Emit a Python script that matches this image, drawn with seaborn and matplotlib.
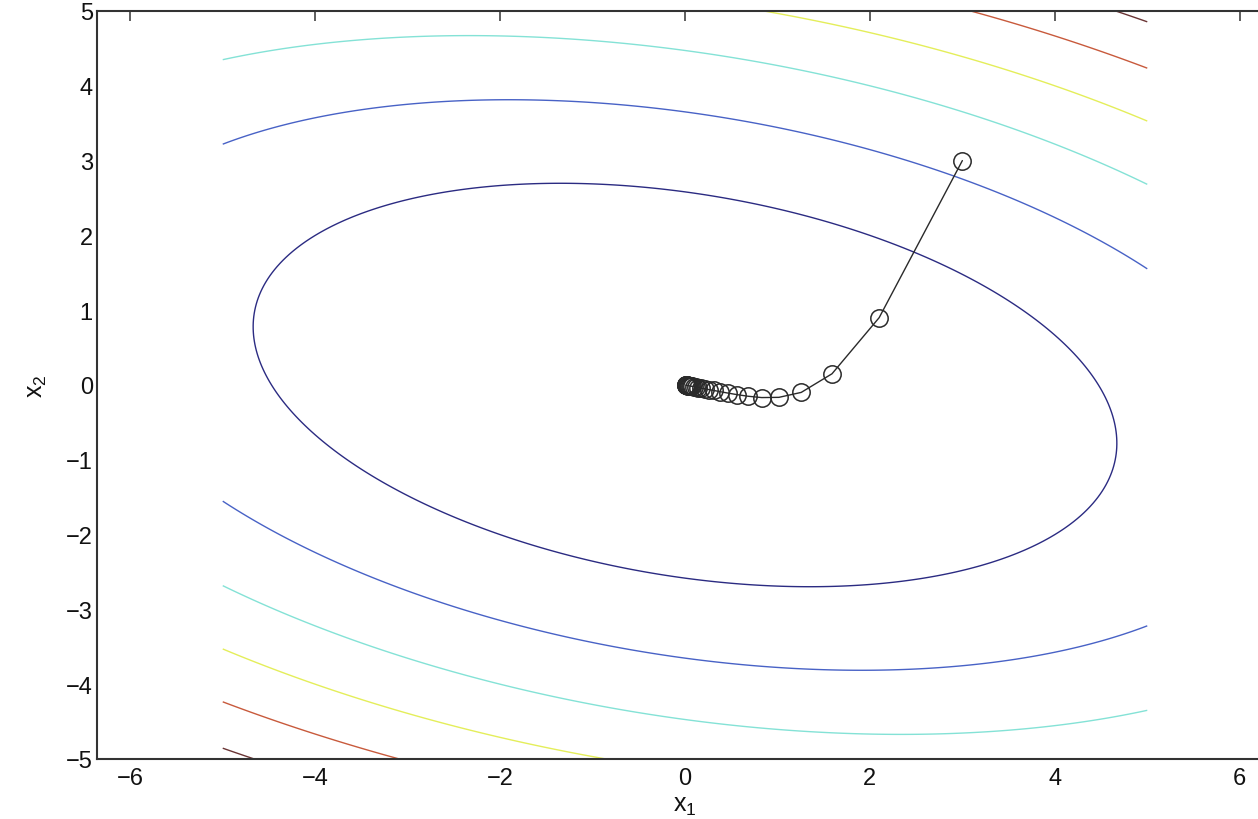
import numpy as np
import pandas as pd
import seaborn as sns
import matplotlib.pyplot as plt

# quadratic f(x) = a*x1^2 + 2*b*x1*x2 + c*x2^2
quad_a = 1.0
quad_b = 0.5
quad_c = 3.0
grid_lo, grid_hi = -5.0, 5.0
levels = [20, 40, 60, 80, 100, 120]
level_colors = ['#2b2b82', '#4862c6', '#84e2d6', '#e4ee5a', '#c85a3c', '#6a3434']

# descent path
path_x1 = [3.0, 2.10, 1.59, 1.257, 1.016, 0.829, 0.680, 0.559, 0.460, 0.379,
           0.312, 0.257, 0.211, 0.174, 0.143, 0.118, 0.097, 0.080, 0.066, 0.054,
           0.045, 0.037, 0.030, 0.025, 0.021, 0.017, 0.014, 0.011, 0.009, 0.008]
path_x2 = [3.0, 0.90, 0.15, -0.099, -0.165, -0.168, -0.150, -0.128, -0.107, -0.089,
           -0.073, -0.061, -0.050, -0.041, -0.034, -0.028, -0.023, -0.019, -0.016, -0.013,
           -0.011, -0.009, -0.007, -0.006, -0.005, -0.004, -0.003, -0.003, -0.002, -0.002]

xticks = [-6, -4, -2, 0, 2, 4, 6]
yticks = [-5, -4, -3, -2, -1, 0, 1, 2, 3, 4, 5]


def main():
    sns.set_theme(style='white')
    plt.rcParams['font.family'] = ['Liberation Sans', 'DejaVu Sans']

    fig = plt.figure(figsize=(12.58, 8.2), dpi=100)
    ax = fig.add_axes([97 / 1258, 1 - 760 / 820, (1273 - 97) / 1258, 748 / 820])

    g = np.linspace(grid_lo, grid_hi, 241)
    X1, X2 = np.meshgrid(g, g)
    Z = quad_a * X1 ** 2 + 2 * quad_b * X1 * X2 + quad_c * X2 ** 2
    ax.contour(X1, X2, Z, levels=levels, colors=level_colors, linewidths=1.0)

    path = pd.DataFrame({'x1': path_x1, 'x2': path_x2})
    sns.lineplot(data=path, x='x1', y='x2', sort=False, ax=ax, color='#2a2a2a',
                 linewidth=1.0, marker='o', markersize=12.5, markerfacecolor='none',
                 markeredgecolor='#2a2a2a', markeredgewidth=1.1)

    ax.set_xlim(-6.36, 6.36)
    ax.set_ylim(-5, 5)
    ax.set_xticks(xticks)
    ax.set_yticks(yticks)
    ax.tick_params(direction='in', top=True, right=True, length=7, width=1.1,
                   color='#333333', labelsize=17, labelcolor='#111111')
    ax.tick_params(axis='x', pad=6)
    ax.tick_params(axis='y', pad=3)
    for s in ax.spines.values():
        s.set_color('#333333')
        s.set_linewidth(1.5)

    ax.set_xlabel(r'$\mathregular{x_1}$', fontsize=18, labelpad=3, color='#111111')
    ax.set_ylabel(r'$\mathregular{x_2}$', fontsize=18, labelpad=12, color='#111111')

    fig.savefig('out.png', dpi=100)
    plt.close(fig)


if __name__ == '__main__':
    main()
